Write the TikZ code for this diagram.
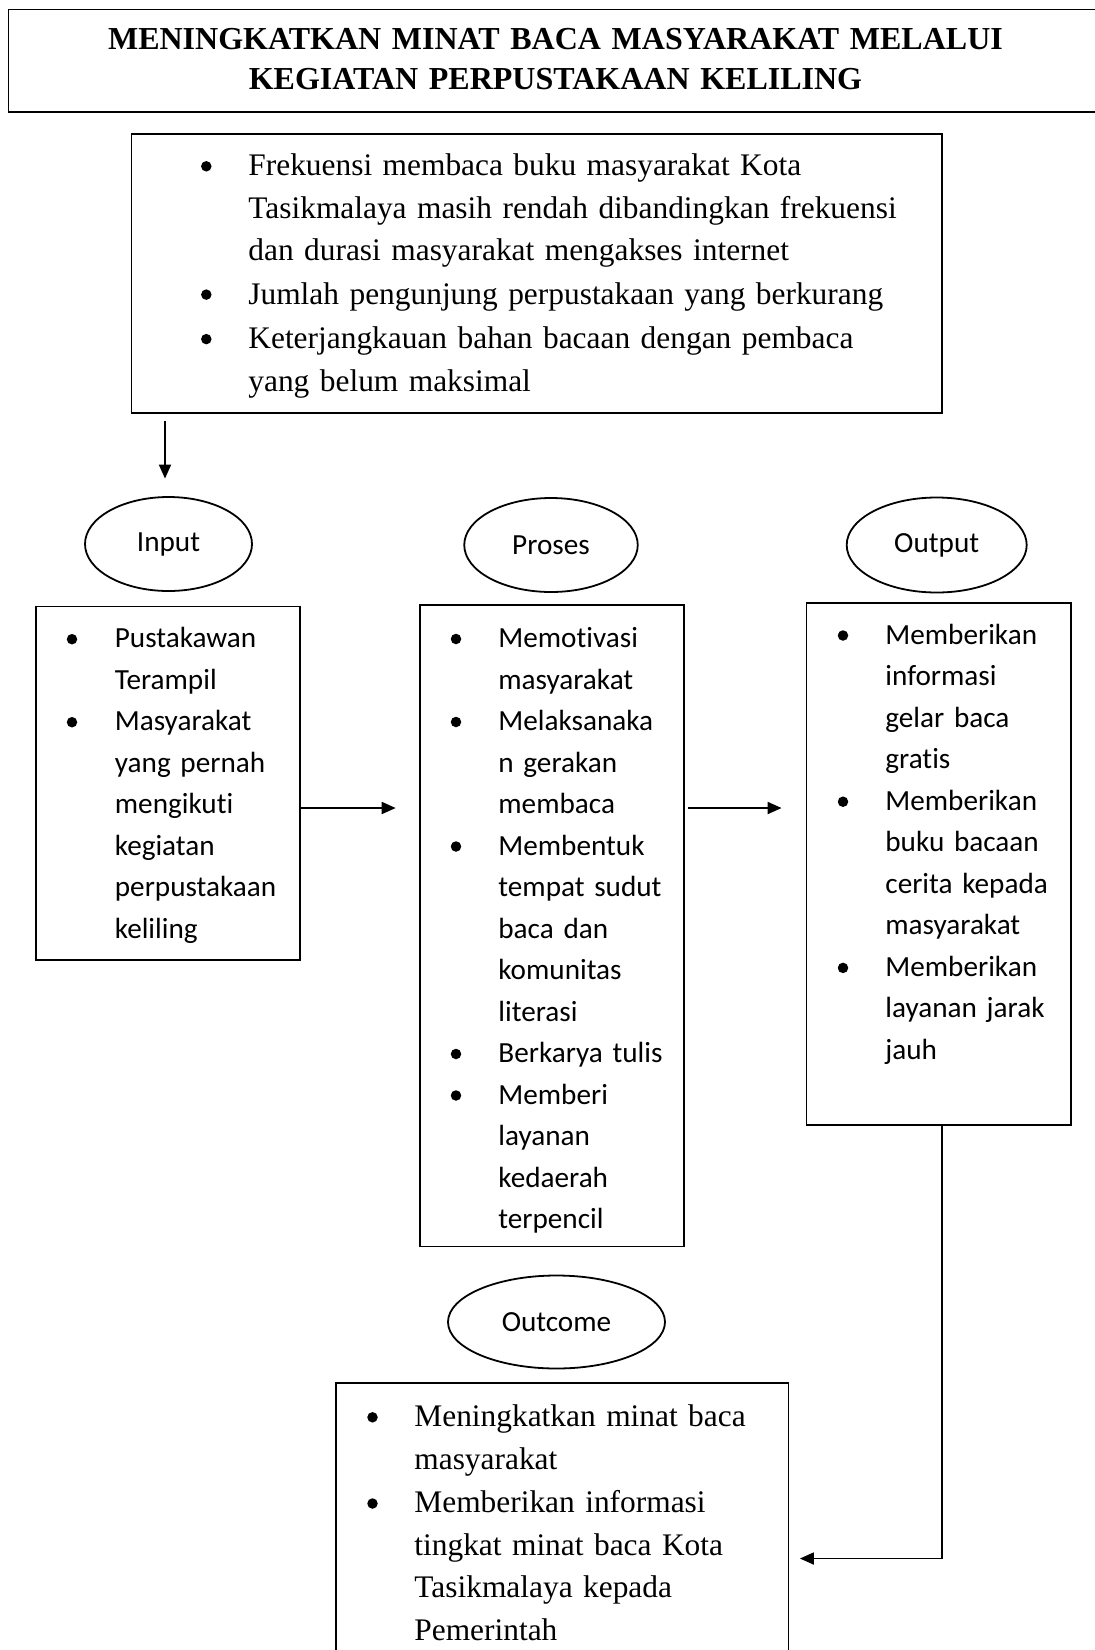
\documentclass[tikz,border=0pt]{standalone}
\usepackage{fontspec}
\setmainfont{Liberation Serif}
\newfontfamily\calibrifont[Ligatures=NoCommon]{Carlito}
\usetikzlibrary{shapes.geometric,fit,arrows.meta}
\tikzset{
  box/.style={draw, line width=0.9pt, inner sep=0pt},
  oval/.style={draw, ellipse, line width=0.9pt, inner sep=0pt,
    font=\calibrifont\fontsize{14.6pt}{18pt}\selectfont},
  sertext/.style={font=\fontsize{15.7pt}{21.25pt}\selectfont, anchor=base west,
    inner sep=0pt, align=left, text width=400pt},
  caltext/.style={font=\calibrifont\fontsize{14.6pt}{20.75pt}\selectfont, anchor=base west,
    inner sep=0pt, align=left, text width=200pt},
  bul/.style={circle, fill=black, draw=none, inner sep=0pt, minimum size=5.25pt},
  arr/.style={-{Triangle[length=7pt,width=6pt]}, line width=0.9pt},
}
\begin{document}
\begin{tikzpicture}[x=0.5pt,y=-0.5pt]
\useasboundingbox (0,0) rectangle (1094,1650);
\fill[white] (0,0) rectangle (1094,1650);

% title
\node[box, fit={(8.5,9.5) (1102,112)}] (tbox) {};
\node[font=\bfseries\fontsize{16pt}{20.25pt}\selectfont, anchor=base, inner sep=0pt,
  align=center, text width=1000pt] (ttl) at (555.5,49.3)
  {MENINGKATKAN MINAT BACA MASYARAKAT MELALUI\\KEGIATAN PERPUSTAKAAN KELILING};

% problem box
\node[box, fit={(131.5,134) (942.3,413)}] (prob) {};
\node[bul] (pb1) at (206.3,166.3) {};
\node[sertext] (pt1) at (248,175.7) {Frekuensi membaca buku masyarakat Kota\\Tasikmalaya masih rendah dibandingkan frekuensi\\dan durasi masyarakat mengakses internet};
\node[bul] (pb2) at (206.3,294.6) {};
\node[sertext] (pt2) at (248,304) {Jumlah pengunjung perpustakaan yang berkurang};
\node[bul] (pb3) at (206.3,339.1) {};
\node[sertext] (pt3) at (248,348.5) {Keterjangkauan bahan bacaan dengan pembaca\\yang belum maksimal};

% ellipses
\node[oval, minimum width=83.5pt, minimum height=47pt] (inE) at (168.5,544) {Input};
\node[oval, minimum width=86.75pt, minimum height=47pt] (prE) at (551,545) {Proses};
\node[oval, minimum width=90pt, minimum height=47.5pt] (ouE) at (936.7,545) {Output};
\node[oval, minimum width=108.5pt, minimum height=46.5pt] (ocE) at (556.5,1322) {Outcome};

% input box
\node[box, fit={(35.7,606.5) (300.3,960)}] (inB) {};
\node[bul] (ib1) at (72,639.2) {};
\node[caltext] (it1) at (114.5,647.7) {Pustakawan\\Terampil};
\node[bul] (ib2) at (72,722.2) {};
\node[caltext] (it2) at (114.5,730.7) {Masyarakat\\yang pernah\\mengikuti\\kegiatan\\perpustakaan\\keliling};

% proses box
\node[box, fit={(419.6,605) (684,1246.5)}] (prB) {};
\node[bul] (sb1) at (456,639) {};
\node[caltext] (st1) at (498,647.5) {Memotivasi\\masyarakat};
\node[bul] (sb2) at (456,722) {};
\node[caltext] (st2) at (498,730.5) {Melaksanaka\\n gerakan\\membaca};
\node[bul] (sb3) at (456,846.5) {};
\node[caltext] (st3) at (498,855) {Membentuk\\tempat sudut\\baca dan\\komunitas\\literasi};
\node[bul] (sb4) at (456,1054) {};
\node[caltext] (st4) at (498,1062.5) {Berkarya tulis};
\node[bul] (sb5) at (456,1095.5) {};
\node[caltext] (st5) at (498,1104) {Memberi\\layanan\\kedaerah\\terpencil};

% output box
\node[box, fit={(806.5,603) (1070.7,1125)}] (ouB) {};
\node[bul] (ob1) at (843,635.5) {};
\node[caltext] (ot1) at (885,644) {Memberikan\\informasi\\gelar baca\\gratis};
\node[bul] (ob2) at (843,801.7) {};
\node[caltext] (ot2) at (885,810.2) {Memberikan\\buku bacaan\\cerita kepada\\masyarakat};
\node[bul] (ob3) at (843,967.9) {};
\node[caltext] (ot3) at (885,976.4) {Memberikan\\layanan jarak\\jauh};

% outcome box
\node[box, fit={(336,1383) (788.5,1668)}] (ocB) {};
\node[bul] (cb1) at (372.5,1417.3) {};
\node[sertext] (ct1) at (414,1426.7) {Meningkatkan minat baca\\masyarakat};
\node[bul] (cb2) at (372.5,1503.5) {};
\node[sertext] (ct2) at (414,1512.9) {Memberikan informasi\\tingkat minat baca Kota\\Tasikmalaya kepada\\Pemerintah};

% connectors
\coordinate (ta) at (165,0);
\coordinate (r1) at (0,808);
\coordinate (r3) at (941.7,1558.5);
\draw[arr, shorten <=3.5pt, shorten >=8.75pt] (prob.south -| ta) -- (inE.north -| ta);
\draw[arr, shorten >=11.5pt] (inB.east |- r1) -- (prB.west |- r1);
\draw[arr, shorten <=1.5pt, shorten >=12pt] (prB.east |- r1) -- (ouB.west |- r1);
\draw[arr, shorten >=5.25pt] (ouB.south -| r3) |- (ocB.east |- r3);
\end{tikzpicture}
\end{document}
